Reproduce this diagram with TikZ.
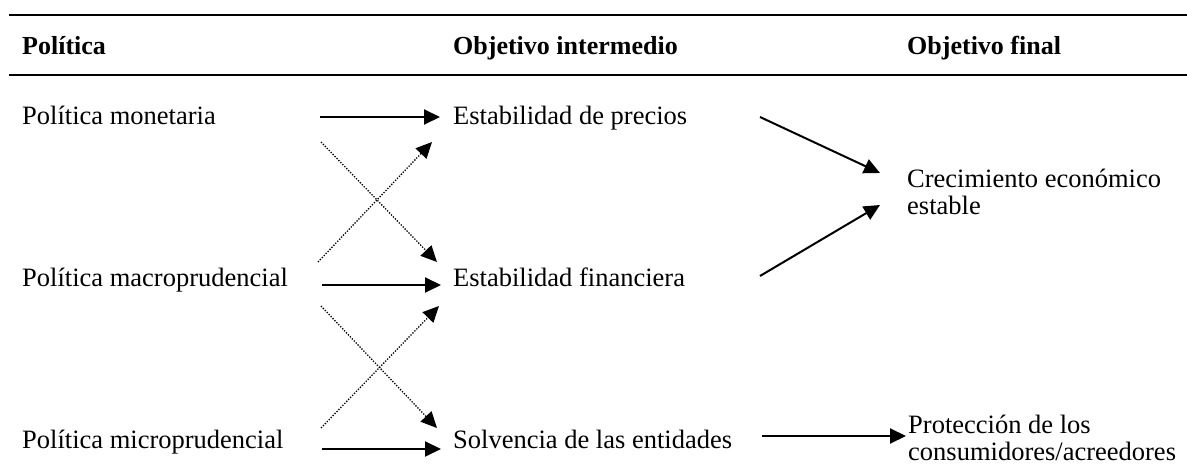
\documentclass[tikz,border=0pt]{standalone}
\usepackage{fontspec}
\setmainfont{Liberation Serif}
\usetikzlibrary{arrows.meta}
\tikzset{
  txt/.style={anchor=base west, inner sep=0pt, font=\fontsize{26.5}{27}\selectfont, align=left},
  hdr/.style={anchor=base west, inner sep=0pt, font=\fontsize{26}{27}\selectfont\bfseries},
  rule/.style={line width=2.5pt},
  arr/.style={line width=2pt, -{Triangle[length=16pt,width=15pt]}},
  dotarr/.style={line width=1.3pt, dash pattern=on 1.3pt off 1.5pt, -{Triangle[length=16pt,width=15pt]}}
}
\begin{document}
\begin{tikzpicture}[x=1pt,y=-1pt]
\useasboundingbox (0,0) rectangle (1187,473);
% rules
\coordinate (r1a) at (9,15);  \coordinate (r1b) at (1187,15);
\coordinate (r2a) at (9,75);  \coordinate (r2b) at (1187,75);
\draw[rule] (r1a) -- (r1b);
\draw[rule] (r2a) -- (r2b);
% headers
\node[hdr] (h1) at (22,55) {Política};
\node[hdr] (h2) at (453,55) {Objetivo intermedio};
\node[hdr] (h3) at (907,55) {Objetivo final};
% column 1
\node[txt] (pm) at (22,125) {Política monetaria};
\node[txt] (pma) at (22,287) {Política macroprudencial};
\node[txt] (pmi) at (22,448) {Política microprudencial};
% column 2
\node[txt] (ep) at (453,125) {Estabilidad de precios};
\node[txt] (ef) at (453,287) {Estabilidad financiera};
\node[txt] (se) at (453,448) {Solvencia de las entidades};
% column 3 (base anchor = last line)
\node[txt] (ce) at (907,215) {Crecimiento económico\\estable};
\node[txt] (pc) at (908,460) {Protección de los\\consumidores/acreedores};
% arrow end points
\coordinate (a1s) at (320,117); \coordinate (a1e) at (440,117);
\coordinate (a2s) at (322,285); \coordinate (a2e) at (441,285);
\coordinate (a3s) at (322,449); \coordinate (a3e) at (441,449);
\coordinate (d1s) at (321,142); \coordinate (d1e) at (437,262);
\coordinate (d2s) at (318,262); \coordinate (d2e) at (432,142);
\coordinate (d3s) at (321,306); \coordinate (d3e) at (437,428);
\coordinate (d4s) at (321,428); \coordinate (d4e) at (439,306);
\coordinate (f1s) at (760,117); \coordinate (f1e) at (880,173);
\coordinate (f2s) at (760,276); \coordinate (f2e) at (880,205);
\coordinate (f3s) at (762,436); \coordinate (f3e) at (906,436);
% connectors
\draw[arr] (a1s) -- (a1e);
\draw[arr] (a2s) -- (a2e);
\draw[arr] (a3s) -- (a3e);
\draw[dotarr] (d1s) -- (d1e);
\draw[dotarr] (d2s) -- (d2e);
\draw[dotarr] (d3s) -- (d3e);
\draw[dotarr] (d4s) -- (d4e);
\draw[arr] (f1s) -- (f1e);
\draw[arr] (f2s) -- (f2e);
\draw[arr] (f3s) -- (f3e);
\end{tikzpicture}
\end{document}
